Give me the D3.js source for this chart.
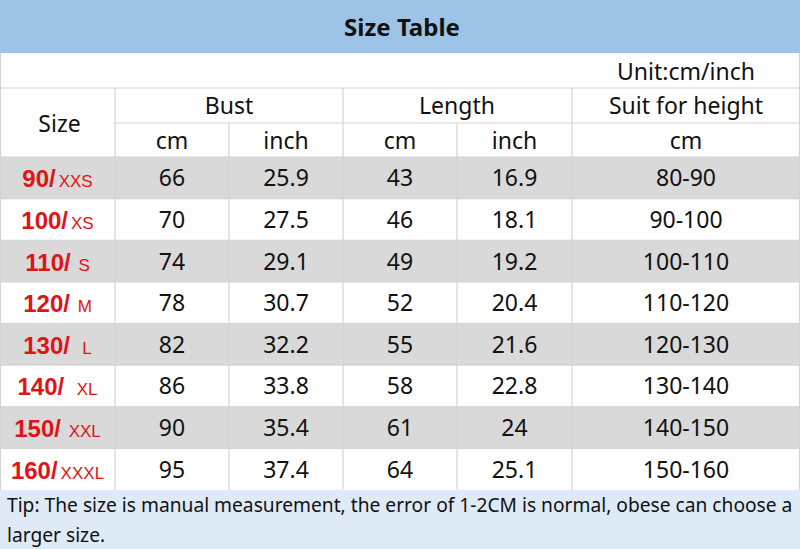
<!DOCTYPE html>
<html lang="en">
<head>
    <meta charset="UTF-8">
    <title>Size Table</title>
    <script src="https://d3js.org/d3.v7.min.js"></script>
    <style>
        body { margin: 0; background: #ffffff; }
        svg { display: block; font-family: 'Noto Sans', 'Open Sans', sans-serif; }
        .size { font-family: 'Liberation Sans', Arial, sans-serif; }
    </style>
</head>
<body>
<div id="chart"></div>
<script>
    // Table content
    const titleText = "Size Table";
    const unitText = "Unit:cm/inch";
    const groupHeaders = ["Bust", "Length", "Suit for height"];
    const unitHeaders = ["cm", "inch", "cm", "inch", "cm"];
    const sizeNums = ["90/", "100/", "110/", "120/", "130/", "140/", "150/", "160/"];
    const sizeLetters = ["XXS", "XS", " S", " M", "  L", "  XL", " XXL", "XXXL"];
    const bustCm = ["66", "70", "74", "78", "82", "86", "90", "95"];
    const bustInch = ["25.9", "27.5", "29.1", "30.7", "32.2", "33.8", "35.4", "37.4"];
    const lengthCm = ["43", "46", "49", "52", "55", "58", "61", "64"];
    const lengthInch = ["16.9", "18.1", "19.2", "20.4", "21.6", "22.8", "24", "25.1"];
    const heightRange = ["80-90", "90-100", "100-110", "110-120", "120-130", "130-140", "140-150", "150-160"];
    const tipLines = [
        "Tip: The size is manual measurement, the error of 1-2CM is normal, obese can choose a",
        "larger size."
    ];

    const width = 800, height = 549;
    const lineColor = "#d4d4d4";

    const svg = d3.select("#chart").append("svg")
        .attr("width", width).attr("height", height);

    // column edges and row bands
    const colEdges = [0, 115, 229, 343, 457, 572, 800];
    const rows = d3.scaleBand().domain(d3.range(sizeNums.length)).range([157, 490]);
    const mid = i => (colEdges[i] + colEdges[i + 1]) / 2;

    // title bar
    svg.append("rect").attr("x", 0).attr("y", 0).attr("width", width).attr("height", 53)
        .attr("fill", "#9dc3e6");
    svg.append("text").attr("x", 402).attr("y", 36)
        .attr("text-anchor", "middle").attr("font-size", 24).attr("font-weight", "bold")
        .attr("fill", "#111").text(titleText);

    // unit row
    svg.append("text").attr("x", mid(5)).attr("y", 80)
        .attr("text-anchor", "middle").attr("font-size", 23).attr("fill", "#111").text(unitText);

    // zebra data rows
    svg.selectAll("rect.row")
        .data(d3.range(sizeNums.length))
        .join("rect")
        .attr("class", "row")
        .attr("x", 0).attr("width", width)
        .attr("y", d => rows(d)).attr("height", rows.bandwidth())
        .attr("fill", d => d % 2 === 0 ? "#d9d9d9" : "#ffffff");

    // tip row
    svg.append("rect").attr("x", 0).attr("y", 490).attr("width", width).attr("height", height - 490)
        .attr("fill", "#deeaf6");

    // grid lines
    const g = svg.append("g").attr("stroke", lineColor).attr("stroke-width", 1.2);
    [88, 157].forEach(y => g.append("line").attr("x1", 0).attr("x2", width).attr("y1", y).attr("y2", y));
    g.append("line").attr("x1", colEdges[1]).attr("x2", width).attr("y1", 123).attr("y2", 123);
    rows.domain().slice(1).forEach(i => g.append("line")
        .attr("x1", 0).attr("x2", width).attr("y1", rows(i)).attr("y2", rows(i)));
    [1, 3, 5].forEach(i => g.append("line")
        .attr("x1", colEdges[i]).attr("x2", colEdges[i]).attr("y1", 88).attr("y2", 490));
    [2, 4].forEach(i => g.append("line")
        .attr("x1", colEdges[i]).attr("x2", colEdges[i]).attr("y1", 123).attr("y2", 490));
    g.append("line").attr("x1", 0.5).attr("x2", 0.5).attr("y1", 53).attr("y2", 490);
    g.append("line").attr("x1", width - 0.5).attr("x2", width - 0.5).attr("y1", 53).attr("y2", 490);

    // header texts
    svg.append("text").attr("x", mid(0) + 2).attr("y", 132)
        .attr("text-anchor", "middle").attr("font-size", 23).attr("fill", "#111").text("Size");
    const groupCenters = [colEdges[2], colEdges[4], mid(5)];
    svg.selectAll("text.group")
        .data(groupHeaders)
        .join("text")
        .attr("class", "group")
        .attr("x", (d, i) => groupCenters[i]).attr("y", 114)
        .attr("text-anchor", "middle").attr("font-size", 23).attr("fill", "#111")
        .text(d => d);
    svg.selectAll("text.unit")
        .data(unitHeaders)
        .join("text")
        .attr("class", "unit")
        .attr("x", (d, i) => mid(i + 1)).attr("y", 149)
        .attr("text-anchor", "middle").attr("font-size", 23).attr("fill", "#111")
        .text(d => d);

    // size labels
    const sizeText = svg.selectAll("text.size")
        .data(sizeNums)
        .join("text")
        .attr("class", "size")
        .attr("x", mid(0)).attr("y", (d, i) => rows(i) + rows.bandwidth() / 2 + 9.5)
        .attr("text-anchor", "middle").attr("fill", "#e01414")
        .attr("xml:space", "preserve");
    sizeText.append("tspan").attr("font-size", 24).attr("font-weight", "bold").text(d => d);
    sizeText.append("tspan").attr("font-size", 17).attr("dx", 3).text((d, i) => sizeLetters[i]);

    // value columns
    const columns = [bustCm, bustInch, lengthCm, lengthInch, heightRange];
    columns.forEach((col, c) => {
        svg.selectAll("text.col" + c)
            .data(col)
            .join("text")
            .attr("class", "col" + c)
            .attr("x", mid(c + 1)).attr("y", (d, i) => rows(i) + rows.bandwidth() / 2 + 8.5)
            .attr("text-anchor", "middle").attr("font-size", 23).attr("fill", "#111")
            .text(d => d);
    });

    // tip text
    svg.selectAll("text.tip")
        .data(tipLines)
        .join("text")
        .attr("class", "tip")
        .attr("x", 7).attr("y", (d, i) => 512 + i * 30)
        .attr("font-size", 19.2).attr("fill", "#111")
        .text(d => d);
</script>
</body>
</html>
